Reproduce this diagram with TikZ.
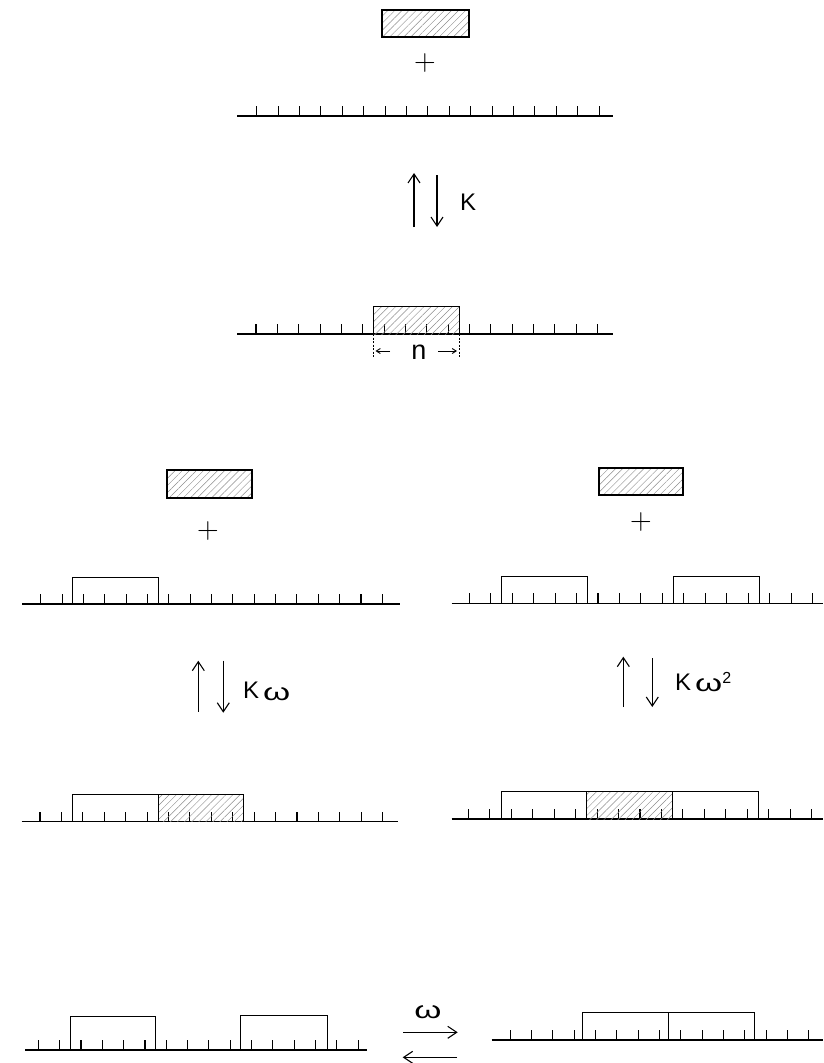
\documentclass[tikz,border=0pt]{standalone}
\usepackage{fontspec}
\newfontfamily\labelfont{Liberation Sans}
\usetikzlibrary{patterns.meta,arrows.meta}
\newcommand\myruler[6]{% xstart, xend, y, first tick, spacing, last index
  \draw[rulerbase] (#1,#3) -- (#2,#3);
  \foreach \i in {0,...,#6} \draw[rulertick] ({#4+\i*#5},#3) -- ++(0,-10);
}
\newcommand\openbox[4]{\draw[frame] (#1,#3) |- (#2,#4) -- (#2,#3);}
\newcommand\hatchrect[4]{\fill[hatch] (#1,#2) rectangle (#3,#4);}
\newcommand\om{\scalebox{1.45}[1]{ω}}
\tikzset{
  rulerbase/.style={line width=1.5pt},
  rulertick/.style={line width=1.1pt},
  frame/.style={line width=0.9pt},
  hatch/.style={pattern={Lines[angle=45,distance=5pt,line width=0.45pt]}, pattern color=black!45},
  molecule/.style={draw, line width=1.2pt, hatch, minimum width=86pt, minimum height=27pt, inner sep=0pt},
  plus/.style={font=\fontsize{30}{30}\selectfont, inner sep=0pt},
  lbl/.style={font=\labelfont\fontsize{24}{24}\selectfont, inner sep=0pt},
  arr/.style={line width=1.1pt, -{Straight Barb[length=9pt,width=12pt]}},
  smallarr/.style={line width=0.9pt, -{Straight Barb[length=4pt,width=5pt]}},
  dimline/.style={line width=0.8pt, dash pattern=on 2pt off 1.5pt},
}
\begin{document}
\begin{tikzpicture}[x=1pt,y=-1pt]
\useasboundingbox (0,0) rectangle (823,1063);

% ---------- top: free molecule + lattice ----------
\node[molecule, minimum width=87pt] (m1) at (425.5,23.5) {};
\node[plus] (p1) at (425,63) {+};
\myruler{237}{613}{116}{256.7}{21.4}{16}

% K arrows
\coordinate (ku0) at (414,227); \coordinate (ku1) at (414,173);
\coordinate (kd0) at (437,175); \coordinate (kd1) at (437,227);
\draw[arr] (ku0) -- (ku1);
\draw[arr] (kd0) -- (kd1);
\node[lbl, anchor=base west] (K) at (460,210) {K};

% ---------- adsorbed molecule ----------
\myruler{237}{613}{334}{256}{21.35}{16}
\hatchrect{373.5}{334}{459}{306}
\openbox{373.5}{459}{334}{306}
\draw[dimline] (373.5,334) -- (373.5,358);
\draw[dimline] (459,334) -- (459,358);
\node[lbl, font=\labelfont\fontsize{27}{27}\selectfont] (n) at (419,352) {n};
\coordinate (nl0) at (390,351); \coordinate (nl1) at (375.5,351);
\coordinate (nr0) at (438,351); \coordinate (nr1) at (457,351);
\draw[smallarr] (nl0) -- (nl1);
\draw[smallarr] (nr0) -- (nr1);

% ---------- left: molecule + lattice with one occupied site ----------
\node[molecule, minimum width=85pt, minimum height=28pt] (m2) at (209.5,484) {};
\node[plus] (p2) at (208,531) {+};
\myruler{22}{400}{604}{40.7}{21.35}{16}
\openbox{72.7}{158.3}{604}{577.3}

% ---------- right: molecule + lattice with two occupied sites ----------
\node[molecule, minimum width=84pt] (m3) at (641,481.5) {};
\node[plus] (p3) at (641,522) {+};
\myruler{451.7}{823}{603.3}{469.3}{21.45}{16}
\openbox{501}{587.5}{603.3}{576.5}
\openbox{673.5}{759.5}{603.3}{576}

% K omega arrows (left)
\coordinate (lu0) at (198.3,711.7); \coordinate (lu1) at (198.3,660.7);
\coordinate (ld0) at (223.3,660.7); \coordinate (ld1) at (223.3,712.7);
\draw[arr] (lu0) -- (lu1);
\draw[arr] (ld0) -- (ld1);
\node[lbl, anchor=base west] (Kw) at (243,698.3) {K\,\raisebox{-2pt}{\om}};

% K omega^2 arrows (right)
\coordinate (ru0) at (623.3,707); \coordinate (ru1) at (623.3,656.7);
\coordinate (rd0) at (652.3,658); \coordinate (rd1) at (652.3,707);
\draw[arr] (ru0) -- (ru1);
\draw[arr] (rd0) -- (rd1);
\node[lbl, anchor=base west] (Kw2) at (675,690.7) {K\,\raisebox{-1pt}{\om}\raisebox{7pt}{\fontsize{16}{16}\selectfont 2}};

% ---------- row 4 ----------
\myruler{21.7}{398}{821.7}{40}{21.42}{16}
\hatchrect{158}{821.7}{243.8}{794.3}
\draw[frame] (72.1,821.7) |- (243.8,794.3) -- (243.8,821.7);
\draw[frame] (158,821.7) -- (158,794.3);

\myruler{451.7}{823}{819}{468.3}{21.46}{16}
\hatchrect{586.5}{819}{672.3}{791}
\draw[frame] (501,819) |- (758.3,791) -- (758.3,819);
\draw[frame] (586.5,819) -- (586.5,791);
\draw[frame] (672.3,819) -- (672.3,791);

% ---------- bottom ----------
\myruler{25}{366.7}{1050}{38.3}{21.33}{15}
\openbox{70.7}{155.5}{1050}{1016.7}
\openbox{240.8}{327}{1050}{1015.8}

\myruler{491.7}{823}{1040}{510.2}{21.33}{14}
\draw[frame] (582.5,1040) |- (754.5,1012.7) -- (754.5,1040);
\draw[frame] (668.5,1040) -- (668.5,1012.7);

\node[lbl] (wb) at (428,1011.7) {\om};
\coordinate (wr0) at (403.3,1032.3); \coordinate (wr1) at (457.7,1032.3);
\coordinate (wl0) at (457,1057.3); \coordinate (wl1) at (402.7,1057.3);
\draw[arr] (wr0) -- (wr1);
\draw[arr] (wl0) -- (wl1);
\end{tikzpicture}
\end{document}
